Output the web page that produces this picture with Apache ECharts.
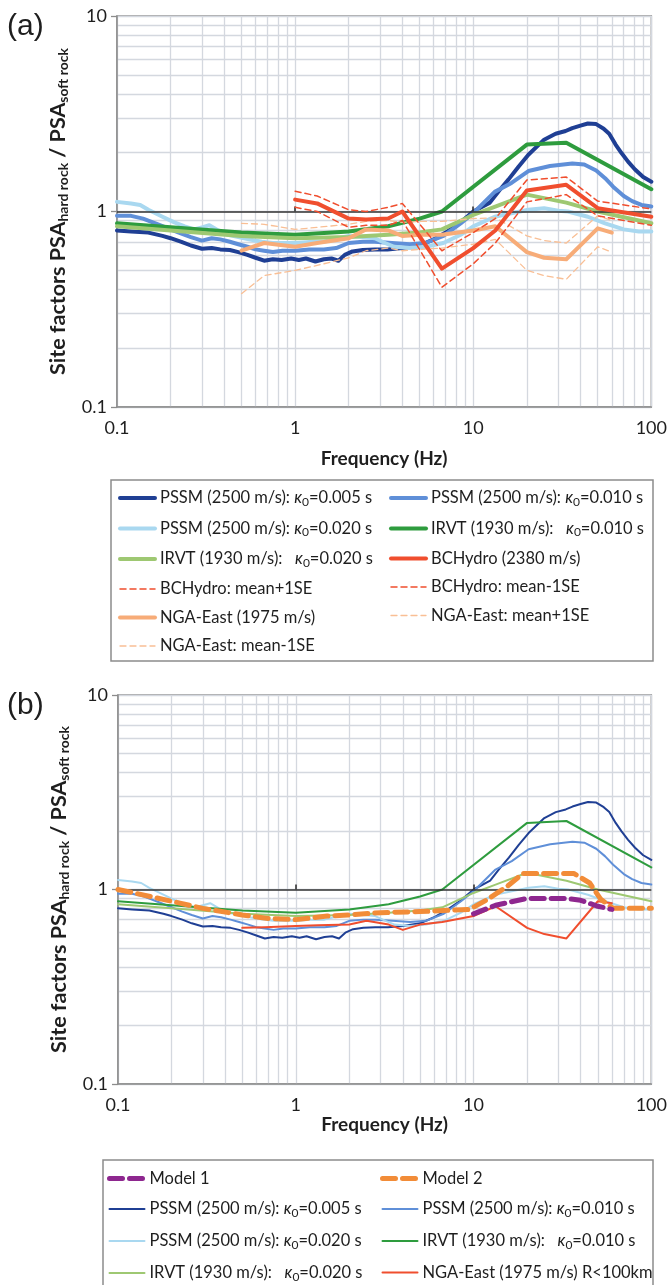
<!DOCTYPE html>
<html>
<head>
<meta charset="utf-8">
<script src="https://cdn.jsdelivr.net/npm/echarts@6/dist/echarts.min.js"></script>
<style>
  html, body { margin: 0; padding: 0; background: #fff; }
  #chart { width: 670px; height: 1285px; }
</style>
</head>
<body>
<div id="chart"></div>
<script>
// ---- Site-factor curves: [frequency (Hz), PSA hard rock / PSA soft rock] ----
const pssm005 = [[0.1,0.80],[0.12,0.79],[0.15,0.78],[0.18,0.75],[0.2,0.73],[0.23,0.70],[0.26,0.67],[0.3,0.645],[0.34,0.65],[0.38,0.64],[0.43,0.635],[0.48,0.62],[0.54,0.60],[0.6,0.58],[0.67,0.56],[0.75,0.57],[0.84,0.565],[0.95,0.575],[1.05,0.565],[1.15,0.575],[1.3,0.555],[1.45,0.57],[1.6,0.575],[1.75,0.56],[1.9,0.60],[2.1,0.625],[2.4,0.635],[2.8,0.64],[3.3,0.64],[4.0,0.65],[5.0,0.67],[6.0,0.72],[7.0,0.78],[8.5,0.88],[10,1.0],[12.4,1.11],[14,1.28],[15.8,1.46],[18,1.7],[20.4,1.95],[25,2.33],[29,2.5],[33,2.58],[36,2.67],[40,2.75],[44,2.82],[49,2.8],[54,2.65],[58,2.5],[63,2.2],[68,1.99],[74,1.8],[81,1.64],[90,1.5],[100,1.42]];
const pssm010 = [[0.1,0.95],[0.12,0.95],[0.14,0.92],[0.17,0.86],[0.2,0.81],[0.23,0.77],[0.26,0.74],[0.3,0.71],[0.34,0.73],[0.38,0.72],[0.43,0.70],[0.48,0.68],[0.54,0.66],[0.6,0.64],[0.67,0.63],[0.75,0.62],[0.85,0.63],[1.0,0.63],[1.2,0.64],[1.45,0.64],[1.7,0.65],[2.0,0.69],[2.4,0.70],[2.8,0.70],[3.5,0.69],[4.4,0.68],[5.4,0.69],[6.8,0.75],[8.5,0.87],[10,0.98],[13.2,1.26],[16.4,1.4],[20.4,1.61],[27,1.71],[36,1.76],[42,1.74],[49,1.62],[55,1.48],[61,1.34],[70,1.2],[78,1.13],[88,1.08],[100,1.06]];
const pssm020 = [[0.1,1.12],[0.12,1.1],[0.135,1.08],[0.15,1.02],[0.18,0.94],[0.21,0.88],[0.24,0.84],[0.27,0.81],[0.3,0.83],[0.33,0.85],[0.37,0.80],[0.42,0.76],[0.48,0.74],[0.55,0.72],[0.65,0.70],[0.75,0.69],[0.9,0.69],[1.04,0.69],[1.25,0.70],[1.45,0.70],[1.75,0.73],[2.0,0.75],[2.4,0.74],[2.8,0.73],[3.2,0.69],[3.6,0.66],[4.4,0.65],[5.4,0.66],[6.8,0.69],[8.5,0.76],[10,0.84],[13.2,0.94],[16.4,0.98],[20.4,1.02],[25,1.04],[30,1.01],[34,1.0],[44,0.94],[55,0.87],[70,0.81],[85,0.79],[100,0.79]];
const irvt010 = [[0.1,0.87],[0.2,0.83],[0.5,0.78],[1,0.76],[2,0.79],[3.33,0.84],[5,0.92],[6.67,1.0],[20,2.2],[33.3,2.25],[100,1.3]];
const irvt020 = [[0.1,0.84],[0.2,0.80],[0.5,0.75],[1,0.73],[2,0.74],[3.33,0.76],[5,0.78],[6.67,0.81],[10,0.96],[13.3,1.06],[20,1.22],[33.3,1.11],[50,1.0],[100,0.87]];
const bcHydro = [[1,1.15],[1.33,1.1],[2,0.92],[2.5,0.91],[3.33,0.92],[4,1.0],[6.67,0.51],[10,0.65],[13.3,0.8],[20,1.28],[33.3,1.37],[50,1.04],[100,0.94]];
const bcHydroPlus = [[1,1.27],[1.33,1.2],[2,1.02],[2.5,1.0],[3.33,1.05],[4,1.1],[6.67,0.63],[10,0.78],[13.3,0.92],[20,1.45],[33.3,1.5],[50,1.13],[100,1.03]];
const bcHydroMinus = [[1,1.05],[1.33,1.0],[2,0.83],[2.5,0.85],[3.33,0.85],[4,0.9],[6.67,0.41],[10,0.54],[13.3,0.69],[20,1.12],[33.3,1.22],[50,0.95],[100,0.85]];
const ngaEast = [[0.5,0.63],[0.67,0.69],[1,0.66],[1.33,0.69],[2,0.73],[2.5,0.81],[3.33,0.80],[4,0.75],[5,0.76],[6.67,0.76],[10,0.80],[13.3,0.84],[20,0.62],[25,0.58],[33.3,0.57],[50,0.82],[60,0.78]];
const ngaEastPlus = [[0.5,0.87],[0.67,0.86],[1,0.81],[1.33,0.83],[2,0.86],[2.5,0.89],[3.33,0.90],[4,0.88],[5,0.89],[6.67,0.89],[10,0.92],[13.3,0.93],[20,0.75],[25,0.71],[33.3,0.69],[50,0.95],[60,0.90]];
const ngaEastMinus = [[0.5,0.38],[0.67,0.47],[1,0.50],[1.33,0.53],[2,0.58],[2.5,0.63],[3.33,0.65],[4,0.63],[5,0.64],[6.67,0.65],[10,0.68],[13.3,0.72],[20,0.50],[25,0.47],[33.3,0.45],[50,0.66],[60,0.62]];
const model1 = [[10,0.75],[13.3,0.83],[20,0.9],[33.3,0.9],[40,0.88],[50,0.82],[60,0.79]];
const model2 = [[0.1,1.0],[0.13,0.95],[0.2,0.87],[0.3,0.80],[0.5,0.74],[0.7,0.71],[1,0.70],[1.5,0.73],[2,0.74],[3,0.76],[5,0.77],[9.5,0.79],[12,0.89],[15.5,1.04],[19,1.21],[36.6,1.21],[45,1.08],[52,0.89],[61,0.8],[100,0.8]];
const ngaEastNear = [[0.5,0.635],[0.67,0.64],[1,0.65],[1.33,0.655],[2,0.66],[2.5,0.69],[3.33,0.66],[4,0.62],[5,0.66],[6.67,0.68],[10,0.73],[13.3,0.82],[20,0.635],[25,0.59],[33.3,0.56],[50,0.87],[60,0.85]];

// axis tick values
const freqTicks = [0.1, 1, 10, 100];
const factorTicks = [0.1, 1, 10];

const FONT = 'Lato, "Open Sans", sans-serif';
const INK = '#1e1e1e';
const GRID_LINE = '#d4d8df';
const FRAME = '#8c8c8c';

const C = {
  pssm005: '#1f3f94', pssm010: '#5f8fd8', pssm020: '#a9d8f0',
  irvt010: '#2e9c3e', irvt020: '#9ec872', bc: '#f04e2e',
  nga: '#f7ac78', ngaSE: '#f9bf95', m1: '#8e278f', m2: '#f28c38'
};

// legend labels (rich text; κ with subscript 0)
const kap = v => '{k|κ}{s|0}{t|=' + v + ' s}';
const labels = {
  a1: '{t|PSSM (2500 m/s): }' + kap('0.005'),
  a2: '{t|PSSM (2500 m/s): }' + kap('0.010'),
  a3: '{t|PSSM (2500 m/s): }' + kap('0.020'),
  a4: '{t|IRVT (1930 m/s):   }' + kap('0.010'),
  a5: '{t|IRVT (1930 m/s):   }' + kap('0.020'),
  a6: '{t|BCHydro (2380 m/s)}',
  a7: '{t|BCHydro: mean+1SE}',
  a8: '{t|BCHydro: mean-1SE}',
  a9: '{t|NGA-East (1975 m/s)}',
  a10: '{t|NGA-East: mean+1SE}',
  a11: '{t|NGA-East: mean-1SE}',
  b1: '{t|Model 1}',
  b2: '{t|Model 2}',
  b3: '{t|PSSM (2500 m/s): }' + kap('0.005'),
  b4: '{t|PSSM (2500 m/s): }' + kap('0.010'),
  b5: '{t|PSSM (2500 m/s): }' + kap('0.020'),
  b6: '{t|IRVT (1930 m/s):   }' + kap('0.010'),
  b7: '{t|IRVT (1930 m/s):   }' + kap('0.020'),
  b8: '{t|NGA-East (1975 m/s) R<100km}'
};

const legendRich = {
  t: { fontFamily: FONT, fontSize: 16.5, color: INK, lineHeight: 20 },
  k: { fontFamily: FONT, fontSize: 16.5, color: INK, fontStyle: 'italic', lineHeight: 20 },
  s: { fontFamily: FONT, fontSize: 12, color: INK, lineHeight: 20, verticalAlign: 'bottom', padding: [7, 0, 0, 0] }
};

function line(name, data, color, width, dash, grid, z) {
  return {
    name, type: 'line', data, xAxisIndex: grid, yAxisIndex: grid,
    symbol: 'none', showSymbol: false, silent: true, z: z || 2,
    lineStyle: { color, width, type: dash || 'solid', cap: 'round', join: 'round' },
    itemStyle: { color },
    emphasis: { disabled: true }
  };
}

// axis line drawn at a factor of 1, with its small ticks
function unityLine(grid) {
  return {
    type: 'line', data: [], xAxisIndex: grid, yAxisIndex: grid, silent: true,
    markLine: {
      silent: true, symbol: 'none', animation: false,
      label: { show: false },
      lineStyle: { color: '#333', width: 1.6, type: 'solid' },
      data: [{ yAxis: 1 }].concat(freqTicks.slice(1, 3).map(f => [{ coord: [f, 1] }, { coord: [f, 1.06] }]))
    }
  };
}

function freqAxis(grid, nameGap) {
  return {
    type: 'log', logBase: 10, gridIndex: grid, min: freqTicks[0], max: freqTicks[freqTicks.length - 1],
    name: 'Frequency (Hz)', nameLocation: 'middle', nameGap,
    nameTextStyle: { fontFamily: FONT, fontSize: 19, fontWeight: 'bold', color: INK },
    axisLine: { show: true, lineStyle: { color: FRAME, width: 1.5 } },
    axisTick: { show: false },
    axisLabel: { fontFamily: FONT, fontSize: 18, color: INK, margin: 12,
      formatter: v => String(Number(v.toPrecision(6))) },
    splitLine: { show: true, lineStyle: { color: GRID_LINE, width: 1.3 } },
    minorTick: { show: false, splitNumber: 9 },
    minorSplitLine: { show: true, lineStyle: { color: GRID_LINE, width: 1.3 } }
  };
}

function factorAxis(grid) {
  return {
    type: 'log', logBase: 10, gridIndex: grid, min: factorTicks[0], max: factorTicks[factorTicks.length - 1],
    name: '{m|Site factors PSA}{s|hard rock}{m| / PSA}{s|soft rock}',
    nameLocation: 'middle', nameRotate: 90, nameGap: 45,
    nameTextStyle: {
      rich: {
        m: { fontFamily: FONT, fontSize: 21.5, fontWeight: 'bold', color: INK, lineHeight: 25 },
        s: { fontFamily: FONT, fontSize: 14, fontWeight: 'bold', color: INK, lineHeight: 25, verticalAlign: 'bottom', padding: [8, 0, 0, 0] }
      }
    },
    axisLine: { show: true, lineStyle: { color: FRAME, width: 1.5 } },
    axisTick: { show: true, length: 6, lineStyle: { color: FRAME, width: 1.3 } },
    axisLabel: { fontFamily: FONT, fontSize: 18, color: INK, margin: 10,
      formatter: v => String(Number(v.toPrecision(6))) },
    splitLine: { show: true, lineStyle: { color: GRID_LINE, width: 1.3 } },
    minorTick: { show: false, splitNumber: 9 },
    minorSplitLine: { show: true, lineStyle: { color: GRID_LINE, width: 1.3 } }
  };
}

function legendColumn(left, top, gap, names) {
  return {
    orient: 'vertical', left, top, padding: 0, itemGap: gap,
    itemWidth: 35, itemHeight: 14, selectedMode: false,
    data: names,
    formatter: n => labels[n],
    itemStyle: { opacity: 0, borderWidth: 0 },
    lineStyle: { width: 'inherit' },
    textStyle: { rich: legendRich }
  };
}

const series = [
  // panel (a)
  line('a1', pssm005, C.pssm005, 4, null, 0, 2),
  line('a2', pssm010, C.pssm010, 4, null, 0, 2),
  line('a3', pssm020, C.pssm020, 4, null, 0, 2),
  line('a4', irvt010, C.irvt010, 4, null, 0, 3),
  line('a5', irvt020, C.irvt020, 4, null, 0, 3),
  line('a9', ngaEast, C.nga, 4, null, 0, 4),
  line('a10', ngaEastPlus, C.ngaSE, 1.3, [6, 4], 0, 4),
  line('a11', ngaEastMinus, C.ngaSE, 1.3, [6, 4], 0, 4),
  line('a6', bcHydro, C.bc, 4, null, 0, 5),
  line('a7', bcHydroPlus, C.bc, 1.5, [6, 4], 0, 5),
  line('a8', bcHydroMinus, C.bc, 1.5, [6, 4], 0, 5),
  unityLine(0),
  // panel (b)
  line('b3', pssm005, C.pssm005, 2, null, 1, 2),
  line('b4', pssm010, C.pssm010, 2, null, 1, 2),
  line('b5', pssm020, C.pssm020, 2, null, 1, 2),
  line('b6', irvt010, C.irvt010, 2, null, 1, 3),
  line('b7', irvt020, C.irvt020, 2, null, 1, 3),
  line('b8', ngaEastNear, C.bc, 2, null, 1, 4),
  line('b2', model2, C.m2, 5, [13, 7], 1, 6),
  line('b1', model1, C.m1, 5, [13, 7], 1, 6),
  unityLine(1)
];

const option = {
  backgroundColor: '#fff',
  animation: false,
  title: [
    { text: '(a)', left: 7, top: 12, padding: 0,
      textStyle: { fontFamily: '"Liberation Sans", Arial, sans-serif', fontSize: 30, fontWeight: 'normal', color: INK } },
    { text: '(b)', left: 7, top: 691, padding: 0,
      textStyle: { fontFamily: '"Liberation Sans", Arial, sans-serif', fontSize: 30, fontWeight: 'normal', color: INK } }
  ],
  grid: [
    { left: 117, right: 17, top: 16, height: 391, show: true, borderColor: FRAME, borderWidth: 1.5, containLabel: false },
    { left: 118, right: 17, top: 695, height: 389, show: true, borderColor: FRAME, borderWidth: 1.5, containLabel: false }
  ],
  xAxis: [freqAxis(0, 42), freqAxis(1, 30)],
  yAxis: [factorAxis(0), factorAxis(1)],
  legend: [
    legendColumn(118, 489, 11.5, ['a1', 'a3', 'a5', 'a7', 'a9', 'a11']),
    legendColumn(389, 489, 11.5, ['a2', 'a4', 'a6', 'a8', 'a10']),
    legendColumn(107, 1170, 13, ['b1', 'b3', 'b5', 'b7']),
    legendColumn(380, 1170, 13, ['b2', 'b4', 'b6', 'b8'])
  ],
  graphic: [
    { type: 'rect', silent: true, z: -1, shape: { x: 111, y: 480, width: 542, height: 181 },
      style: { fill: '#fff', stroke: FRAME, lineWidth: 1.5 } },
    { type: 'rect', silent: true, z: -1, shape: { x: 103, y: 1160, width: 550, height: 140 },
      style: { fill: '#fff', stroke: FRAME, lineWidth: 1.5 } }
  ],
  series
};

const chart = echarts.init(document.getElementById('chart'), null, { renderer: 'canvas' });
chart.setOption(option);
</script>
</body>
</html>
